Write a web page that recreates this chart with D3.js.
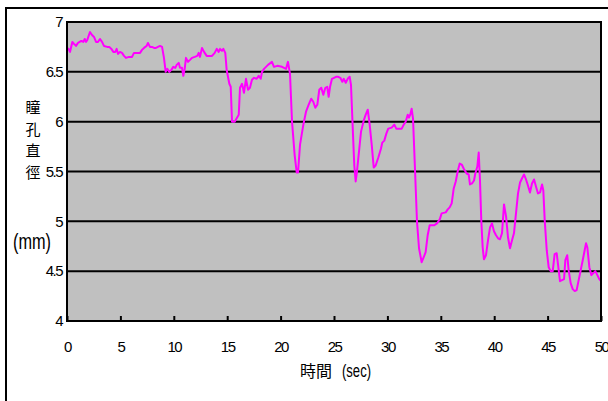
<!DOCTYPE html>
<html>
<head>
<meta charset="utf-8">
<script src="https://cdn.jsdelivr.net/npm/d3@7"></script>
<style>
  html, body { margin: 0; padding: 0; background: #fff; }
  svg { display: block; font-family: "Liberation Sans", Arial, sans-serif; }
</style>
</head>
<body>
<svg id="chart" width="608" height="401"></svg>
<script>
// pupil diameter over time (sec, mm)
const times = [
  0.09, 0.28, 0.50, 0.66, 0.84, 1.03, 1.34, 1.53, 1.66, 1.78, 1.90, 2.15, 2.34, 2.53, 2.72, 2.90,
  3.09, 3.28, 3.46, 3.77, 3.96, 4.15, 4.34, 4.52, 4.65, 4.78, 4.96, 5.15, 5.34, 5.52, 5.81, 6.09,
  6.27, 6.84, 7.02, 7.21, 7.46, 7.58, 7.77, 7.96, 8.15, 8.33, 8.52, 8.71, 8.90, 9.08, 9.24, 9.39,
  9.58, 9.77, 9.95, 10.14, 10.27, 10.46, 10.58, 10.77, 10.89, 11.02, 11.14, 11.33, 11.52, 11.70,
  11.96, 12.20, 12.33, 12.45, 12.64, 12.83, 13.08, 13.58, 13.83, 14.02, 14.20, 14.33, 14.51, 14.64,
  14.82, 14.95, 15.20, 15.33, 15.45, 15.70, 16.08, 16.20, 16.39, 16.57, 16.76, 16.95, 17.13, 17.32,
  17.51, 17.76, 17.95, 18.14, 18.26, 18.45, 18.82, 19.19, 19.38, 19.69, 20.13, 20.51, 20.69, 20.88,
  21.07, 21.32, 21.51, 21.63, 21.82, 22.13, 22.38, 22.63, 22.87, 23.06, 23.25, 23.44, 23.62, 23.81,
  24.00, 24.19, 24.37, 24.50, 24.63, 24.81, 25.19, 25.40, 25.59, 25.78, 25.91, 26.10, 26.28, 26.47,
  26.59, 26.78, 26.90, 27.03, 27.15, 27.34, 27.53, 27.78, 27.97, 28.16, 28.34, 28.53, 28.72, 28.90,
  29.15, 29.40, 29.52, 29.71, 29.90, 30.08, 30.40, 30.65, 30.83, 31.34, 31.53, 31.71, 31.90, 32.02,
  32.14, 32.27, 32.40, 32.58, 32.77, 32.96, 33.21, 33.40, 33.58, 33.77, 33.96, 34.39, 34.64, 34.90,
  35.08, 35.46, 35.65, 35.83, 36.02, 36.21, 36.40, 36.58, 36.77, 36.96, 37.14, 37.42, 37.61, 37.73,
  37.92, 38.11, 38.23, 38.42, 38.55, 38.67, 38.79, 38.92, 39.04, 39.23, 39.42, 39.61, 39.79, 39.98,
  40.17, 40.36, 40.54, 40.73, 40.92, 41.11, 41.29, 41.48, 41.67, 41.85, 42.04, 42.23, 42.42, 42.60,
  42.79, 42.98, 43.16, 43.35, 43.54, 43.73, 43.91, 44.10, 44.29, 44.48, 44.60, 44.73, 44.92, 45.10,
  45.29, 45.48, 45.66, 45.85, 46.04, 46.16, 46.35, 46.54, 46.66, 46.84, 46.97, 47.16, 47.35, 47.54,
  47.72, 47.91, 48.10, 48.29, 48.47, 48.60, 48.72, 48.91, 49.10, 49.28, 49.47, 49.66, 49.84, 50.00
];
const diameters = [
  6.74, 6.70, 6.80, 6.78, 6.76, 6.79, 6.81, 6.80, 6.83, 6.80, 6.82, 6.90, 6.87, 6.85, 6.80, 6.80,
  6.83, 6.80, 6.76, 6.75, 6.75, 6.73, 6.70, 6.70, 6.73, 6.68, 6.70, 6.69, 6.66, 6.64, 6.65, 6.65,
  6.69, 6.69, 6.72, 6.74, 6.76, 6.79, 6.75, 6.75, 6.74, 6.74, 6.75, 6.76, 6.75, 6.64, 6.50, 6.53,
  6.50, 6.52, 6.55, 6.54, 6.57, 6.59, 6.54, 6.54, 6.46, 6.53, 6.64, 6.60, 6.62, 6.64,
  6.65, 6.66, 6.69, 6.65, 6.74, 6.70, 6.66, 6.66, 6.69, 6.73, 6.70, 6.73, 6.71, 6.73,
  6.69, 6.52, 6.38, 6.35, 6.00, 6.00, 6.07, 6.34, 6.38, 6.29, 6.43, 6.32, 6.34, 6.42,
  6.44, 6.43, 6.46, 6.43, 6.50, 6.53, 6.57, 6.60, 6.55, 6.56, 6.55, 6.53, 6.60, 6.48,
  6.00, 5.66, 5.49, 5.49, 5.77, 5.97, 6.10, 6.17, 6.23, 6.20, 6.14, 6.17, 6.32, 6.34,
  6.27, 6.34, 6.35, 6.25, 6.35, 6.43, 6.45, 6.45, 6.44, 6.40, 6.43, 6.39, 6.43, 6.45,
  6.37, 5.87, 5.56, 5.40, 5.50, 5.70, 5.90, 6.01, 6.07, 6.12, 5.97, 5.77, 5.54, 5.56,
  5.64, 5.73, 5.79, 5.81, 5.88, 5.93, 5.94, 5.97, 5.93, 5.93, 5.97, 6.00, 6.07, 6.04,
  6.07, 6.13, 6.03, 5.53, 5.00, 4.73, 4.59, 4.64, 4.69, 4.86, 4.96, 4.96, 4.98, 5.02,
  5.08, 5.09, 5.12, 5.14, 5.18, 5.33, 5.40, 5.50, 5.58, 5.57, 5.53, 5.48, 5.47, 5.37,
  5.38, 5.41, 5.48, 5.55, 5.69, 5.41, 5.01, 4.74, 4.62, 4.66, 4.81, 4.94, 4.98, 4.90,
  4.86, 4.83, 4.82, 4.88, 5.17, 5.05, 4.84, 4.73, 4.81, 4.88, 5.08, 5.28, 5.39, 5.43,
  5.47, 5.42, 5.36, 5.29, 5.38, 5.42, 5.35, 5.28, 5.29, 5.37, 5.31, 5.01, 4.71, 4.54,
  4.50, 4.50, 4.67, 4.68, 4.51, 4.40, 4.41, 4.42, 4.61, 4.66, 4.51, 4.38, 4.32, 4.30,
  4.31, 4.41, 4.51, 4.61, 4.71, 4.78, 4.74, 4.54, 4.46, 4.48, 4.50, 4.46, 4.42, 4.40
];

const xTicks = [0, 5, 10, 15, 20, 25, 30, 35, 40, 45, 50];
const yTicks = [4, 4.5, 5, 5.5, 6, 6.5, 7];
const yTitleChars = ['瞳', '孔', '直', '徑'];

const svg = d3.select('#chart');
const plot = { left: 67, top: 22, right: 601, bottom: 321 };

const x = d3.scaleLinear().domain([0, 50]).range([plot.left, plot.right]);
const y = d3.scaleLinear().domain([4, 7]).range([plot.bottom, plot.top]);

// outer chart frame (runs off the right and bottom edges)
svg.append('rect')
   .attr('x', 6).attr('y', 8)
   .attr('width', 640).attr('height', 440)
   .attr('fill', '#fff')
   .attr('stroke', '#000').attr('stroke-width', 2);

// plot background
svg.append('rect')
   .attr('x', plot.left).attr('y', plot.top)
   .attr('width', plot.right - plot.left).attr('height', plot.bottom - plot.top)
   .attr('fill', '#c0c0c0');

// horizontal gridlines
svg.append('g')
   .selectAll('line')
   .data(yTicks.filter(d => d > 4 && d < 7))
   .join('line')
   .attr('x1', plot.left).attr('x2', plot.right)
   .attr('y1', d => y(d)).attr('y2', d => y(d))
   .attr('stroke', '#000').attr('stroke-width', 2);

// line
const line = d3.line()
    .x((d, i) => x(times[i]))
    .y(d => y(d));

svg.append('path')
   .datum(diameters)
   .attr('fill', 'none')
   .attr('stroke', '#ff00ff')
   .attr('stroke-width', 2)
   .attr('stroke-linejoin', 'round')
   .attr('d', line);

// plot border
svg.append('rect')
   .attr('x', plot.left).attr('y', plot.top)
   .attr('width', plot.right - plot.left).attr('height', plot.bottom - plot.top)
   .attr('fill', 'none')
   .attr('stroke', '#000').attr('stroke-width', 2);

// x axis: inward ticks
const xAxis = svg.append('g')
   .attr('transform', `translate(0,${plot.bottom})`)
   .call(d3.axisBottom(x).tickValues(xTicks).tickSize(-5).tickPadding(20).tickFormat(d3.format('d')));
xAxis.select('.domain').remove();
xAxis.selectAll('line').attr('stroke', '#000').attr('stroke-width', 2);
xAxis.selectAll('text')
   .attr('fill', '#000')
   .style('font-size', '15px')
   .style('letter-spacing', '-1.5px');

// y axis labels
const yAxis = svg.append('g')
   .attr('transform', `translate(${plot.left},0)`)
   .call(d3.axisLeft(y).tickValues(yTicks).tickSize(0).tickPadding(5).tickFormat(d => String(d)));
yAxis.select('.domain').remove();
yAxis.selectAll('text')
   .attr('fill', '#000')
   .style('font-size', '15px')
   .style('letter-spacing', '-1.5px');

// y title, vertical characters
svg.append('g')
   .selectAll('text')
   .data(yTitleChars)
   .join('text')
   .attr('x', 33)
   .attr('y', (d, i) => 113 + i * 21.5)
   .attr('text-anchor', 'middle')
   .style('font-family', '"Noto Sans CJK TC", sans-serif')
   .style('font-size', '15px')
   .text(d => d);

svg.append('text')
   .attr('x', 13).attr('y', 249)
   .attr('textLength', 38)
   .attr('lengthAdjust', 'spacingAndGlyphs')
   .style('font-size', '22px')
   .text('(mm)');

// x title
svg.append('text')
   .attr('x', 300).attr('y', 377)
   .style('font-family', '"Noto Sans CJK TC", sans-serif')
   .style('font-size', '16px')
   .text('時間');
svg.append('text')
   .attr('x', 342).attr('y', 377)
   .attr('textLength', 29)
   .attr('lengthAdjust', 'spacingAndGlyphs')
   .style('font-size', '18px')
   .text('(sec)');
</script>
</body>
</html>
